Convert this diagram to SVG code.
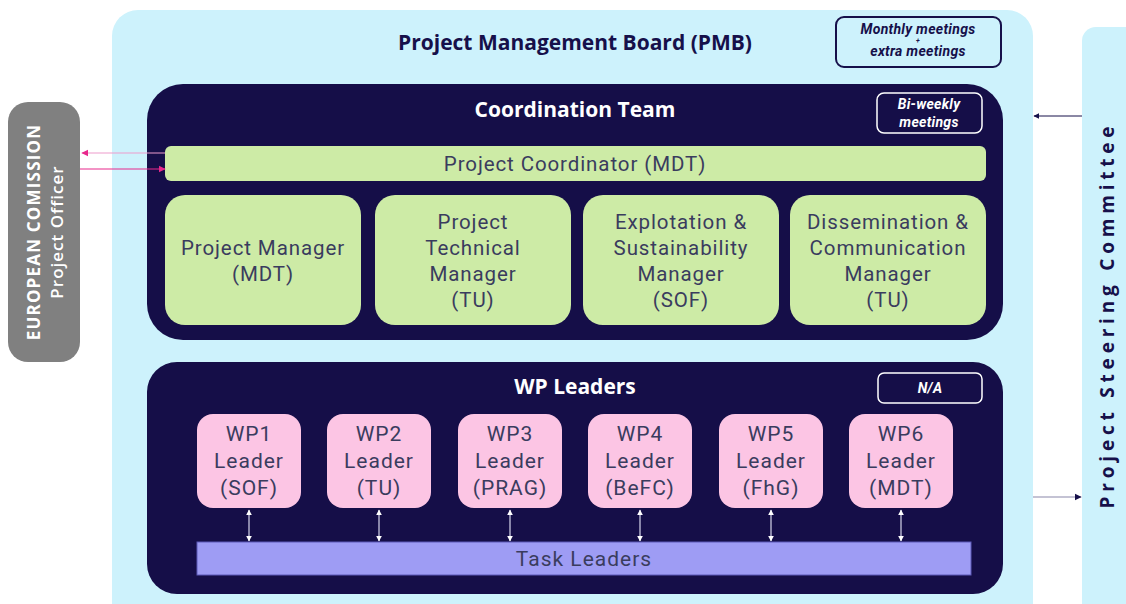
<svg xmlns="http://www.w3.org/2000/svg" width="1126" height="604" viewBox="0 0 1126 604">
<style>
.t{font-family:"Open Sans","Liberation Sans",sans-serif}
.h{font-family:"Open Sans","Liberation Sans",sans-serif;font-weight:700;font-size:21px;text-anchor:middle}
.lbl{font-family:Roboto,"Liberation Sans",sans-serif;font-size:20.5px;letter-spacing:0.9px;fill:#3a3c5e;text-anchor:middle}
.wl{font-size:21px;letter-spacing:1px}
.note{font-family:Roboto,"Liberation Sans",sans-serif;font-style:italic;font-weight:700;font-size:14px;letter-spacing:0.3px;text-anchor:middle}
.green{fill:#cdeba6}
.pink{fill:#fcc5e4}
.navy{fill:#150e48}
</style>
<defs>
<marker id="wh" viewBox="0 0 10 10" refX="9" refY="5" markerWidth="5" markerHeight="5" orient="auto-start-reverse"><path d="M0,0 L10,5 L0,10 z" fill="#ffffff"/></marker>
<marker id="pk" viewBox="0 0 10 10" refX="9" refY="5" markerWidth="6" markerHeight="6" orient="auto"><path d="M0,0 L10,5 L0,10 z" fill="#e8288c"/></marker>
<marker id="nv" viewBox="0 0 10 10" refX="9" refY="5" markerWidth="6" markerHeight="6" orient="auto"><path d="M0,0 L10,5 L0,10 z" fill="#16104a"/></marker>
</defs>

<g id="pmb">
<rect x="112" y="10" width="921" height="620" rx="26" fill="#cdf2fc"/>
<text class="h" x="575" y="50" fill="#16104a">Project Management Board (PMB)</text>
<rect x="836" y="17" width="165" height="50" rx="8" fill="none" stroke="#16104a" stroke-width="2"/>
<text class="note" fill="#16104a"><tspan x="918" y="34">Monthly meetings</tspan><tspan x="918" y="43" font-size="7">+</tspan><tspan x="918" y="56">extra meetings</tspan></text>
</g>

<g id="steering">
<rect x="1082" y="27" width="60" height="600" rx="14" fill="#cdf2fc"/>
<text class="t" transform="translate(1114,315) rotate(-90)" text-anchor="middle" font-weight="700" font-size="19" letter-spacing="4.8" fill="#16104a">Project Steering Committee</text>
</g>

<g id="ec">
<rect x="8" y="102" width="72" height="260" rx="20" fill="#808080"/>
<text class="t" transform="translate(40,232) rotate(-90)" text-anchor="middle" font-weight="700" font-size="17" letter-spacing="1.2" fill="#ffffff">EUROPEAN COMISSION</text>
<text class="t" transform="translate(63,232) rotate(-90)" text-anchor="middle" font-weight="600" font-size="17" letter-spacing="1" fill="#ffffff">Project Officer</text>
</g>

<g id="coordination">
<rect x="147" y="84" width="856" height="256" rx="36" class="navy"/>
<text class="h" x="575" y="117" fill="#ffffff">Coordination Team</text>
<rect x="877" y="93" width="105" height="40" rx="7" fill="none" stroke="#ffffff" stroke-width="1.5"/>
<text class="note" x="929" y="109" fill="#ffffff">Bi-weekly</text>
<text class="note" x="929" y="127" fill="#ffffff">meetings</text>
</g>

<g id="coordinator">
<rect x="165" y="146" width="821" height="35" rx="6" class="green"/>
<text class="lbl" x="575" y="171">Project Coordinator (MDT)</text>
</g>

<g id="pm">
<rect x="165" y="195" width="196" height="130" rx="20" class="green"/>
<text class="lbl" x="263" y="255">Project Manager</text>
<text class="lbl" x="263" y="281">(MDT)</text>
</g>
<g id="ptm">
<rect x="375" y="195" width="196" height="130" rx="20" class="green"/>
<text class="lbl" x="473" y="229">Project</text>
<text class="lbl" x="473" y="255">Technical</text>
<text class="lbl" x="473" y="281">Manager</text>
<text class="lbl" x="473" y="307">(TU)</text>
</g>
<g id="esm">
<rect x="583" y="195" width="196" height="130" rx="20" class="green"/>
<text class="lbl" x="681" y="229">Explotation &amp;</text>
<text class="lbl" x="681" y="255">Sustainability</text>
<text class="lbl" x="681" y="281">Manager</text>
<text class="lbl" x="681" y="307">(SOF)</text>
</g>
<g id="dcm">
<rect x="790" y="195" width="196" height="130" rx="20" class="green"/>
<text class="lbl" x="888" y="229">Dissemination &amp;</text>
<text class="lbl" x="888" y="255">Communication</text>
<text class="lbl" x="888" y="281">Manager</text>
<text class="lbl" x="888" y="307">(TU)</text>
</g>

<g id="wpleaders">
<rect x="147" y="362" width="856" height="232" rx="30" class="navy"/>
<text class="h" x="575" y="394" fill="#ffffff" font-size="22">WP Leaders</text>
<rect x="878" y="373" width="104" height="30" rx="6" fill="none" stroke="#ffffff" stroke-width="1.5"/>
<text class="note" x="930" y="393" fill="#ffffff">N/A</text>
</g>

<g id="wp1"><rect x="197" y="414" width="104" height="94" rx="16" class="pink"/>
<text class="lbl wl" x="249" y="441">WP1</text><text class="lbl wl" x="249" y="468">Leader</text><text class="lbl wl" x="249" y="495">(SOF)</text></g>
<g id="wp2"><rect x="327" y="414" width="104" height="94" rx="16" class="pink"/>
<text class="lbl wl" x="379" y="441">WP2</text><text class="lbl wl" x="379" y="468">Leader</text><text class="lbl wl" x="379" y="495">(TU)</text></g>
<g id="wp3"><rect x="458" y="414" width="104" height="94" rx="16" class="pink"/>
<text class="lbl wl" x="510" y="441">WP3</text><text class="lbl wl" x="510" y="468">Leader</text><text class="lbl wl" x="510" y="495">(PRAG)</text></g>
<g id="wp4"><rect x="588" y="414" width="104" height="94" rx="16" class="pink"/>
<text class="lbl wl" x="640" y="441">WP4</text><text class="lbl wl" x="640" y="468">Leader</text><text class="lbl wl" x="640" y="495">(BeFC)</text></g>
<g id="wp5"><rect x="719" y="414" width="104" height="94" rx="16" class="pink"/>
<text class="lbl wl" x="771" y="441">WP5</text><text class="lbl wl" x="771" y="468">Leader</text><text class="lbl wl" x="771" y="495">(FhG)</text></g>
<g id="wp6"><rect x="849" y="414" width="104" height="94" rx="16" class="pink"/>
<text class="lbl wl" x="901" y="441">WP6</text><text class="lbl wl" x="901" y="468">Leader</text><text class="lbl wl" x="901" y="495">(MDT)</text></g>

<g id="taskleaders">
<rect x="197" y="542" width="774" height="33" fill="#9e9cf4" stroke="#5c58b8" stroke-width="1"/>
<text class="lbl wl" x="584" y="566">Task Leaders</text>
</g>

<g id="connectors" fill="none">
<g stroke="#d8d8ec" stroke-width="1.2" marker-start="url(#wh)" marker-end="url(#wh)">
<line x1="249" y1="510" x2="249" y2="541"/>
<line x1="379" y1="510" x2="379" y2="541"/>
<line x1="510" y1="510" x2="510" y2="541"/>
<line x1="640" y1="510" x2="640" y2="541"/>
<line x1="771" y1="510" x2="771" y2="541"/>
<line x1="901" y1="510" x2="901" y2="541"/>
</g>
<line x1="165" y1="153" x2="82" y2="153" stroke="#ee9ccc" stroke-width="1.2" marker-end="url(#pk)"/>
<line x1="80" y1="169" x2="165" y2="169" stroke="#e8288c" stroke-width="1.2" marker-end="url(#pk)"/>
<line x1="1082" y1="116" x2="1034" y2="116" stroke="#16104a" stroke-width="1" marker-end="url(#nv)"/>
<line x1="1033" y1="497" x2="1081" y2="497" stroke="#8a88aa" stroke-width="1.2" marker-end="url(#nv)"/>
</g>
</svg>
